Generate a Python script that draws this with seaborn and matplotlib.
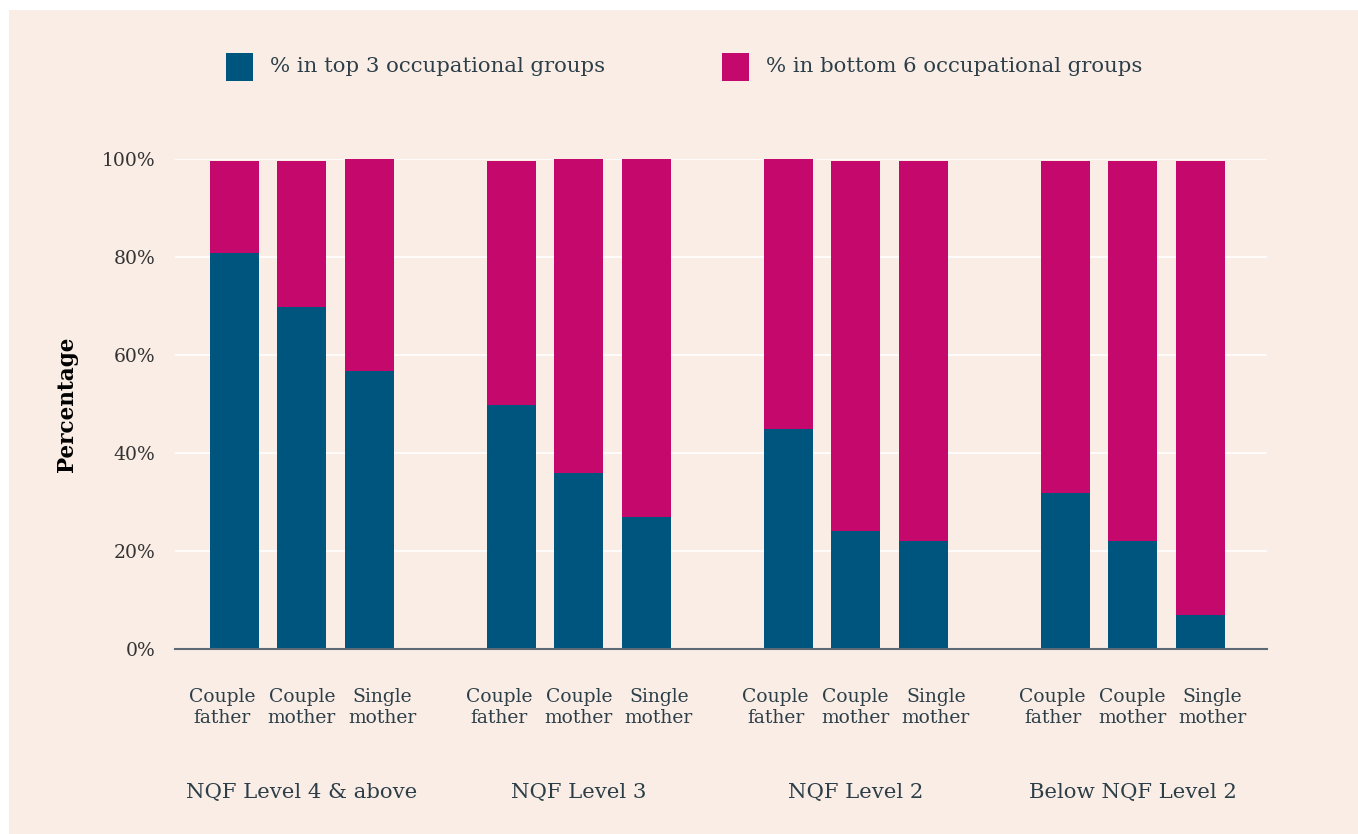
import numpy as np
import pandas as pd
import seaborn as sns
import matplotlib.pyplot as plt
from matplotlib.patches import Rectangle
from matplotlib.transforms import blended_transform_factory

groups = ["NQF Level 4 & above", "NQF Level 3", "NQF Level 2", "Below NQF Level 2"]
members = ["Couple\nfather", "Couple\nmother", "Single\nmother"]
top3 = [80.8, 69.8, 56.7, 49.8, 35.9, 26.9, 44.9, 24.1, 22.0, 31.8, 22.0, 6.9]
bottom6 = [18.8, 29.8, 43.3, 49.8, 64.1, 73.1, 55.1, 75.5, 77.6, 67.8, 77.6, 92.7]
legend_labels = ["% in top 3 occupational groups", "% in bottom 6 occupational groups"]

BLUE = "#00557F"
MAGENTA = "#C4086C"
BG = "#FAEDE5"
TXT = "#2C3E48"

# bar positions: 3 bars per group, groups spaced a bit more than 4 slots apart
pos = [g * 4.1 + i for g in range(len(groups)) for i in range(len(members))]
# labels are spread a little wider than the bars
label_pos = [g * 4.1 + 1 + (i - 1) * 1.185 for g in range(len(groups)) for i in range(len(members))]
df = pd.DataFrame({
    "pos": pos,
    "top3": top3,
    "total": np.array(top3) + np.array(bottom6),
})

sns.set_style("white")
plt.rcParams["font.family"] = ["DejaVu Serif"]

fig = plt.figure(figsize=(13.58, 8.34), dpi=100)
fig.patch.set_facecolor("white")
fig.add_artist(Rectangle((9 / 1358, 0), 1, 1 - 10 / 834, transform=fig.transFigure,
                         facecolor=BG, edgecolor="none", zorder=-10))

ax = fig.add_axes([175 / 1358, 1 - 649 / 834, 1092 / 1358, 490 / 834])
ax.set_facecolor(BG)

sns.barplot(data=df, x="pos", y="total", native_scale=True, color=MAGENTA,
            width=0.726, saturation=1, linewidth=0, ax=ax, zorder=3)
sns.barplot(data=df, x="pos", y="top3", native_scale=True, color=BLUE,
            width=0.726, saturation=1, linewidth=0, ax=ax, zorder=3)

ax.set_xlim(-0.88, 15.29)
ax.set_ylim(0, 100)
ax.set_yticks([0, 20, 40, 60, 80, 100])
ax.set_yticklabels([f"{v}%" for v in [0, 20, 40, 60, 80, 100]])
ax.yaxis.grid(True, color="white", linewidth=1.2, zorder=0)
ax.set_axisbelow(True)
ax.set_xticks(label_pos)
ax.set_xticklabels(members * len(groups), linespacing=1.2)
ax.tick_params(axis="x", length=0, pad=28, labelsize=13.5, labelcolor=TXT)
ax.tick_params(axis="y", length=0, pad=14, labelsize=13.5, labelcolor="#333333")
ax.set_xlabel("")
ax.set_ylabel("Percentage", fontsize=15.5, fontweight="bold", color="black")
ax.yaxis.set_label_coords(-0.089, 0.5)

for s in ["top", "left", "right"]:
    ax.spines[s].set_visible(False)
ax.spines["bottom"].set_color("#5C6B73")
ax.spines["bottom"].set_linewidth(1.5)
ax.spines["bottom"].set_zorder(5)

trans = blended_transform_factory(ax.transData, ax.transAxes)
for g, name in enumerate(groups):
    ax.text(g * 4.1 + 1, -0.292, name, transform=trans, ha="center", va="center",
            fontsize=15.3, color=TXT)

# legend
for x0, col, lab in [(226, BLUE, legend_labels[0]), (722, MAGENTA, legend_labels[1])]:
    fig.add_artist(Rectangle((x0 / 1358, 1 - 81 / 834), 27 / 1358, 28 / 834,
                             transform=fig.transFigure, facecolor=col, edgecolor="none"))
    fig.text((x0 + 44) / 1358, 1 - 67 / 834, lab, ha="left", va="center",
             fontsize=15.3, color=TXT)

fig.savefig("out.png", dpi=100, facecolor=fig.get_facecolor())
